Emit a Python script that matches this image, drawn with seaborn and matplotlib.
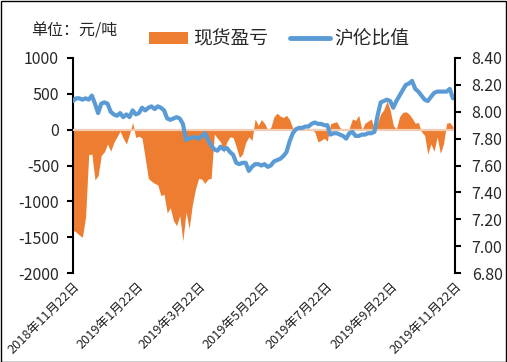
import matplotlib
matplotlib.use("Agg")
import matplotlib.pyplot as plt
import matplotlib.transforms as mtransforms
from matplotlib.patches import Patch, Rectangle
from matplotlib.lines import Line2D
import seaborn as sns
import numpy as np
import pandas as pd

sns.set_theme(style="white")
plt.rcParams['font.family'] = ['Noto Sans CJK SC', 'DejaVu Sans']
plt.rcParams['axes.unicode_minus'] = False

# sampled every 3 days from 2018-11-22
start_date = "2018-11-22"
spot_pnl = [
    -1400, -1430, -1470, -1500, -1220, -350, -340, -700, -640, -360,
    -310, -200, -300, -180, -100, -20, -120, -200, -60, 100,
    -110, -90, -120, -400, -680, -720, -750, -770, -920, -900,
    -1160, -1090, -1270, -1340, -1200, -1550, -1150, -1380, -1050, -830,
    -680, -690, -750, -690, -680, -60, -120, -170, -320, -170,
    -100, -110, -240, -390, -340, -180, -100, -150, 150, 60,
    140, 90, 0, 30, 180, 230, 190, 170, 200, 140,
    20, 0, 0, 0, 0, 0, 0, -30, -170, -150,
    -120, -160, 80, 100, 110, 30, 0, 0, 20, 150,
    130, 200, 0, 90, 120, 150, 0, 100, 220, 280,
    400, 280, 60, 10, 180, 240, 250, 220, 160, 90,
    100, -30, -80, -340, -200, -300, -100, -330, -200, 90,
    100, 40,
]
ratio = [
    8.08, 8.10, 8.10, 8.09, 8.10, 8.09, 8.12, 8.06, 7.99, 8.06,
    8.07, 8.06, 8.00, 7.98, 7.97, 7.99, 7.96, 7.98, 7.96, 8.01,
    7.98, 7.99, 8.03, 8.01, 8.03, 8.04, 8.02, 8.04, 8.03, 8.01,
    7.95, 7.94, 7.95, 7.96, 7.95, 7.91, 7.79, 7.80, 7.81, 7.81,
    7.80, 7.82, 7.84, 7.79, 7.75, 7.72, 7.71, 7.74, 7.72, 7.73,
    7.70, 7.68, 7.62, 7.61, 7.62, 7.62, 7.56, 7.59, 7.61, 7.61,
    7.60, 7.61, 7.59, 7.60, 7.63, 7.64, 7.65, 7.67, 7.70, 7.78,
    7.84, 7.87, 7.88, 7.88, 7.89, 7.89, 7.91, 7.92, 7.91, 7.91,
    7.90, 7.90, 7.83, 7.84, 7.84, 7.83, 7.82, 7.80, 7.84, 7.85,
    7.82, 7.82, 7.83, 7.83, 7.84, 7.84, 7.85, 7.97, 8.07, 8.08,
    8.09, 8.08, 8.03, 8.08, 8.12, 8.16, 8.20, 8.21, 8.23, 8.17,
    8.15, 8.12, 8.09, 8.08, 8.11, 8.14, 8.15, 8.15, 8.15, 8.15,
    8.17, 8.10,
]
tick_dates = ["2018-11-22", "2019-01-22", "2019-03-22", "2019-05-22",
              "2019-07-22", "2019-09-22", "2019-11-22"]
tick_labels = ["2018年11月22日", "2019年1月22日", "2019年3月22日", "2019年5月22日",
               "2019年7月22日", "2019年9月22日", "2019年11月22日"]

df = pd.DataFrame({
    "date": pd.date_range(start_date, periods=len(spot_pnl), freq="3D"),
    "pnl": spot_pnl,
    "ratio": ratio,
})

orange = "#ED7D31"
blue = "#5B9BD5"

fig = plt.figure(figsize=(5.07, 3.62), dpi=100)
ax = fig.add_axes([73 / 507, 1 - 273 / 362, (455 - 73) / 507, (273 - 58) / 362])

ax.fill_between(df["date"], 0, df["pnl"], color=orange, linewidth=0, zorder=2)
ax.axhline(0, color="#F2CBB0", linewidth=1.6, zorder=3)

ax.set_ylim(-2000, 1000)
ax.set_yticks(np.arange(-2000, 1001, 500))
ax.set_xlim(pd.Timestamp(tick_dates[0]), pd.Timestamp(tick_dates[-1]))
ax.set_xticks([pd.Timestamp(d) for d in tick_dates])
ax.set_xticklabels(tick_labels, rotation=45, ha="right", va="top",
                   rotation_mode="anchor", fontsize=9.2, color="#222222")
offset = mtransforms.ScaledTranslation(7 / 100, 0, fig.dpi_scale_trans)
for lbl in ax.get_xticklabels():
    lbl.set_transform(lbl.get_transform() + offset)
ax.tick_params(axis="x", length=0, pad=5)
ax.tick_params(axis="y", direction="out", length=4, width=1.5, color="black",
               labelsize=11.5, pad=6, left=True)
ax.set_xlabel("")
ax.set_ylabel("")
for s in ["top", "bottom", "right"]:
    ax.spines[s].set_visible(False)
ax.spines["left"].set_color("black")
ax.spines["left"].set_linewidth(1.5)
ax.grid(False)

ax2 = ax.twinx()
sns.lineplot(data=df, x="date", y="ratio", ax=ax2, color=blue, linewidth=3)
ax2.set_ylim(6.8, 8.4)
ax2.set_yticks(np.arange(6.8, 8.41, 0.2))
ax2.set_yticklabels([f"{v:.2f}" for v in np.arange(6.8, 8.41, 0.2)])
ax2.tick_params(axis="y", direction="out", length=4, width=1.5, color="black",
                labelsize=11.5, pad=8, right=True)
ax2.set_xlabel("")
ax2.set_ylabel("")
for s in ["top", "bottom", "left"]:
    ax2.spines[s].set_visible(False)
ax2.spines["right"].set_color("black")
ax2.spines["right"].set_linewidth(1.5)
ax2.grid(False)

fig.text(31 / 507, 1 - 31 / 362, "单位：元/吨", fontsize=11.5, va="center", ha="left")

handles = [Patch(facecolor=orange, edgecolor="none"),
           Line2D([0], [0], color=blue, linewidth=3.5)]
fig.legend(handles, ["现货盈亏", "沪伦比值"], loc="center",
           bbox_to_anchor=(279 / 507, 1 - 39 / 362), ncol=2, frameon=False,
           fontsize=13.5, handlelength=2.1, handleheight=0.6, columnspacing=1.2,
           handletextpad=0.25)

fig.patches.append(Rectangle((0.001, 0.001), 0.997, 0.997, transform=fig.transFigure,
                             fill=False, edgecolor="black", linewidth=1))

fig.savefig("out.png", dpi=100)
